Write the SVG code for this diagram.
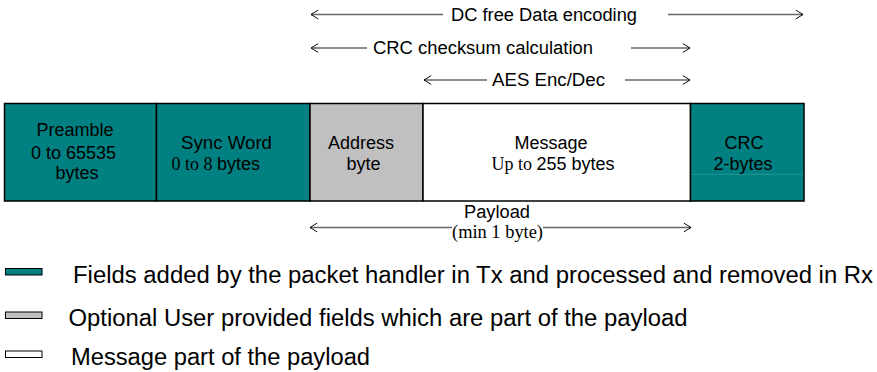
<svg xmlns="http://www.w3.org/2000/svg" width="877" height="372" viewBox="0 0 877 372">
<style>
.t{font-family:"Liberation Sans",Arial,sans-serif;font-size:18px;fill:#000}
.s{font-family:"Liberation Serif","Times New Roman",serif;font-size:18px;fill:#000}
.lg{font-family:"Liberation Sans",Arial,sans-serif;font-size:23px;fill:#000}
.box{stroke:#000;stroke-width:1.5}
.teal{fill:#008080}
.gray{fill:#C0C0C0}
.white{fill:#FFFFFF}
.ln{stroke:#666;stroke-width:1.5;fill:none}
.sw{stroke:#000;stroke-width:1}
</style>
<defs>
<marker id="chev" viewBox="0 0 10 12" markerUnits="userSpaceOnUse" markerWidth="8" markerHeight="10" refX="9.5" refY="6" orient="auto-start-reverse">
<path d="M0.5,0.5 L9.5,6 L0.5,11.5" fill="none" stroke="#000" stroke-width="1.2"/>
</marker>
</defs>
<g id="connectors">
<line class="ln" x1="311" y1="14.5" x2="443" y2="14.5" marker-start="url(#chev)"/>
<line class="ln" x1="668" y1="14.5" x2="803" y2="14.5" marker-end="url(#chev)"/>
<line class="ln" x1="311" y1="48" x2="367" y2="48" marker-start="url(#chev)"/>
<line class="ln" x1="631" y1="48" x2="690" y2="48" marker-end="url(#chev)"/>
<line class="ln" x1="424" y1="80" x2="487" y2="80" marker-start="url(#chev)"/>
<line class="ln" x1="625" y1="80" x2="690" y2="80" marker-end="url(#chev)"/>
<line class="ln" x1="310" y1="227.5" x2="452" y2="227.5" marker-start="url(#chev)"/>
<line class="ln" x1="543" y1="227.5" x2="691" y2="227.5" marker-end="url(#chev)"/>
</g>
<g id="labels">
<text class="t" x="451" y="20.5" textLength="186" lengthAdjust="spacingAndGlyphs">DC free Data encoding</text>
<text class="t" x="373" y="54" textLength="220" lengthAdjust="spacingAndGlyphs">CRC checksum calculation</text>
<text class="t" x="492" y="86" textLength="113" lengthAdjust="spacingAndGlyphs">AES Enc/Dec</text>
<text class="t" x="464" y="218" textLength="66" lengthAdjust="spacingAndGlyphs">Payload</text>
<text class="s" x="452" y="238" textLength="91" lengthAdjust="spacingAndGlyphs">(min 1 byte)</text>
</g>
<g id="preamble">
<rect class="box teal" x="4.5" y="103.5" width="152" height="97.5"/>
<text class="t" x="75" y="135.5" text-anchor="middle">Preamble</text>
<text class="t" x="73.5" y="158.5" text-anchor="middle">0 to 65535</text>
<text class="t" x="77" y="178.5" text-anchor="middle">bytes</text>
</g>
<g id="syncword">
<rect class="box teal" x="156.5" y="103.5" width="153.5" height="97.5"/>
<text class="t" x="181" y="148.5" textLength="91" lengthAdjust="spacingAndGlyphs">Sync Word</text>
<text x="171.5" y="169.5"><tspan class="s">0 to 8 </tspan><tspan class="t">bytes</tspan></text>
</g>
<g id="address">
<rect class="box gray" x="310" y="103.5" width="113" height="97.5"/>
<text class="t" x="361" y="148.5" text-anchor="middle">Address</text>
<text class="t" x="363.5" y="169.5" text-anchor="middle">byte</text>
</g>
<g id="message">
<rect class="box white" x="423" y="103.5" width="267.5" height="97.5"/>
<text class="t" x="551" y="148.5" text-anchor="middle">Message</text>
<text x="553" y="169.5" text-anchor="middle"><tspan class="s">Up to </tspan><tspan class="t">255 bytes</tspan></text>
</g>
<g id="crc">
<rect class="box teal" x="690.5" y="103.5" width="113.5" height="97.5"/>
<line x1="691.5" y1="174.3" x2="803" y2="174.3" stroke="#2E9A9A" stroke-width="0.8"/>
<text class="t" x="744" y="148.5" text-anchor="middle">CRC</text>
<text class="t" x="743" y="169.5" text-anchor="middle">2-bytes</text>
</g>
<g id="legend">
<rect class="sw teal" x="5.5" y="268.5" width="36.5" height="6.5"/>
<text class="lg" x="73" y="282.5" textLength="800" lengthAdjust="spacingAndGlyphs">Fields added by the packet handler in Tx and processed and removed in Rx</text>
<rect class="sw gray" x="5.5" y="312" width="36.5" height="6.5"/>
<text class="lg" x="68.5" y="325.5" textLength="619" lengthAdjust="spacingAndGlyphs">Optional User provided fields which are part of the payload</text>
<rect class="sw white" x="5.5" y="351" width="36.5" height="6.5"/>
<text class="lg" x="71" y="365" textLength="299" lengthAdjust="spacingAndGlyphs">Message part of the payload</text>
</g>
</svg>
